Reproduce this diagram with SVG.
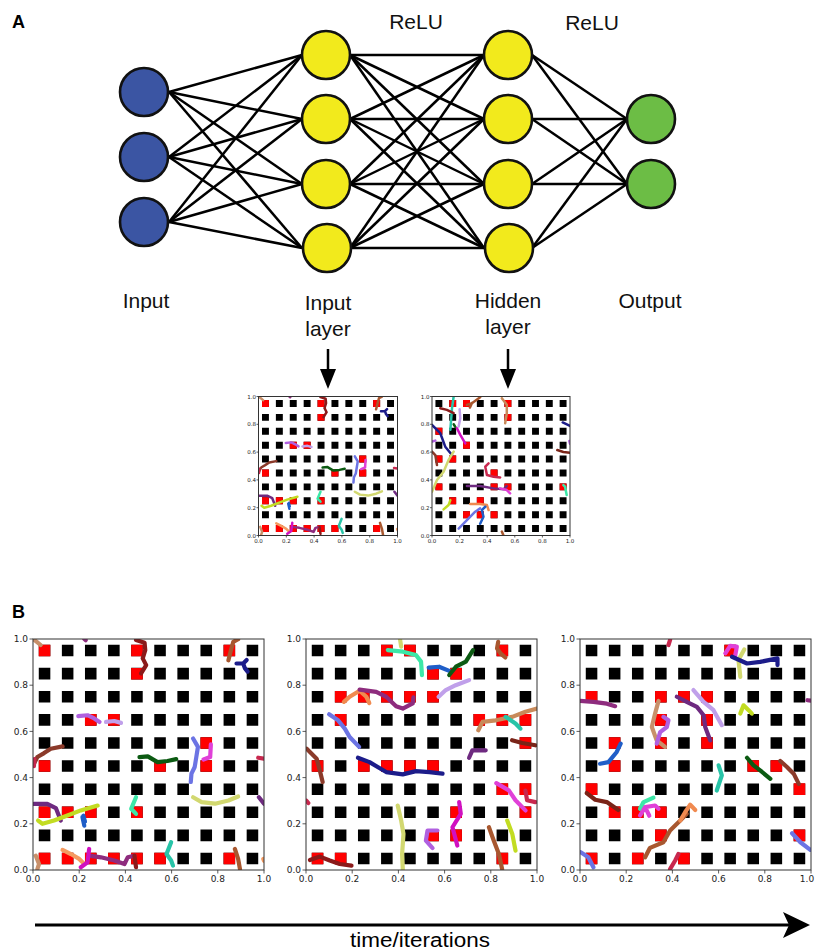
<svg xmlns="http://www.w3.org/2000/svg" xmlns:xlink="http://www.w3.org/1999/xlink" width="815" height="951" viewBox="0 0 815 951">
<style>
.lbl{font-family:"Liberation Sans",Arial,sans-serif;font-size:21px;fill:#111;text-anchor:middle}
.pl{font-family:"Liberation Sans",Arial,sans-serif;font-size:18px;font-weight:bold;fill:#000}
.nb{fill:#3b55a3;stroke:#111;stroke-width:2.6}
.ny{fill:#f2ea1c;stroke:#111;stroke-width:2.6}
.ng{fill:#6cbd45;stroke:#111;stroke-width:2.6}
.conn line{stroke:#000;stroke-width:2.5}
.t path{fill:none;stroke-linecap:round;stroke-linejoin:round;vector-effect:non-scaling-stroke}
.frame{fill:none;stroke:#333;stroke-width:1}
.tick{fill:none;stroke:#333;stroke-width:0.8}
.tl{font-family:"DejaVu Sans",sans-serif;font-size:9px;fill:#222}
.ts{font-family:"DejaVu Sans",sans-serif;font-size:5.5px;fill:#222}
.tan{stroke:#c8906a}.dmag{stroke:#8e2c7e}.dred{stroke:#8b1a1a}.sienna{stroke:#a8572f}.navy{stroke:#1c1c8a}
.morchid{stroke:#b060e0}.lav{stroke:#c0a0ea}.brown{stroke:#8b3a2a}.crimson{stroke:#c8284e}.dgreen{stroke:#0b5a12}
.cblue{stroke:#6c74e4}.fuchsia{stroke:#e040d8}.khaki{stroke:#d2d870}.dpurp{stroke:#6e2a80}.ygreen{stroke:#c2dc22}
.blue{stroke:#1f5ec8}.aqua{stroke:#3ce8a8}.salmon{stroke:#f49a60}.magenta{stroke:#d010c0}.teal{stroke:#28c4a8}
.peru{stroke:#c88a5a}.dbrown{stroke:#7a2418}.coral{stroke:#f08a50}
</style>
<defs>
<clipPath id="cp"><rect x="0" y="0" width="1" height="1"/></clipPath>
<path id="grid" fill="#000" d="M.025 .025h.05v.05h-.05zm.1 0h.05v.05h-.05zm.1 0h.05v.05h-.05zm.1 0h.05v.05h-.05zm.1 0h.05v.05h-.05zm.1 0h.05v.05h-.05zm.1 0h.05v.05h-.05zm.1 0h.05v.05h-.05zm.1 0h.05v.05h-.05zm.1 0h.05v.05h-.05zm-.9 .1h.05v.05h-.05zm.1 0h.05v.05h-.05zm.1 0h.05v.05h-.05zm.1 0h.05v.05h-.05zm.1 0h.05v.05h-.05zm.1 0h.05v.05h-.05zm.1 0h.05v.05h-.05zm.1 0h.05v.05h-.05zm.1 0h.05v.05h-.05zm.1 0h.05v.05h-.05zm-.9 .1h.05v.05h-.05zm.1 0h.05v.05h-.05zm.1 0h.05v.05h-.05zm.1 0h.05v.05h-.05zm.1 0h.05v.05h-.05zm.1 0h.05v.05h-.05zm.1 0h.05v.05h-.05zm.1 0h.05v.05h-.05zm.1 0h.05v.05h-.05zm.1 0h.05v.05h-.05zm-.9 .1h.05v.05h-.05zm.1 0h.05v.05h-.05zm.1 0h.05v.05h-.05zm.1 0h.05v.05h-.05zm.1 0h.05v.05h-.05zm.1 0h.05v.05h-.05zm.1 0h.05v.05h-.05zm.1 0h.05v.05h-.05zm.1 0h.05v.05h-.05zm.1 0h.05v.05h-.05zm-.9 .1h.05v.05h-.05zm.1 0h.05v.05h-.05zm.1 0h.05v.05h-.05zm.1 0h.05v.05h-.05zm.1 0h.05v.05h-.05zm.1 0h.05v.05h-.05zm.1 0h.05v.05h-.05zm.1 0h.05v.05h-.05zm.1 0h.05v.05h-.05zm.1 0h.05v.05h-.05zm-.9 .1h.05v.05h-.05zm.1 0h.05v.05h-.05zm.1 0h.05v.05h-.05zm.1 0h.05v.05h-.05zm.1 0h.05v.05h-.05zm.1 0h.05v.05h-.05zm.1 0h.05v.05h-.05zm.1 0h.05v.05h-.05zm.1 0h.05v.05h-.05zm.1 0h.05v.05h-.05zm-.9 .1h.05v.05h-.05zm.1 0h.05v.05h-.05zm.1 0h.05v.05h-.05zm.1 0h.05v.05h-.05zm.1 0h.05v.05h-.05zm.1 0h.05v.05h-.05zm.1 0h.05v.05h-.05zm.1 0h.05v.05h-.05zm.1 0h.05v.05h-.05zm.1 0h.05v.05h-.05zm-.9 .1h.05v.05h-.05zm.1 0h.05v.05h-.05zm.1 0h.05v.05h-.05zm.1 0h.05v.05h-.05zm.1 0h.05v.05h-.05zm.1 0h.05v.05h-.05zm.1 0h.05v.05h-.05zm.1 0h.05v.05h-.05zm.1 0h.05v.05h-.05zm.1 0h.05v.05h-.05zm-.9 .1h.05v.05h-.05zm.1 0h.05v.05h-.05zm.1 0h.05v.05h-.05zm.1 0h.05v.05h-.05zm.1 0h.05v.05h-.05zm.1 0h.05v.05h-.05zm.1 0h.05v.05h-.05zm.1 0h.05v.05h-.05zm.1 0h.05v.05h-.05zm.1 0h.05v.05h-.05zm-.9 .1h.05v.05h-.05zm.1 0h.05v.05h-.05zm.1 0h.05v.05h-.05zm.1 0h.05v.05h-.05zm.1 0h.05v.05h-.05zm.1 0h.05v.05h-.05zm.1 0h.05v.05h-.05zm.1 0h.05v.05h-.05zm.1 0h.05v.05h-.05zm.1 0h.05v.05h-.05z"/>
<g id="d1" clip-path="url(#cp)">
<use xlink:href="#grid" href="#grid"/>
<path fill="#ff0000" d="M.025 .925h.05v.05h-.05zM.425 .925h.05v.05h-.05zM.825 .925h.05v.05h-.05zM.425 .825h.05v.05h-.05zM.225 .625h.05v.05h-.05zM.325 .625h.05v.05h-.05zM.725 .525h.05v.05h-.05zM.025 .425h.05v.05h-.05zM.525 .425h.05v.05h-.05zM.725 .425h.05v.05h-.05zM.025 .225h.05v.05h-.05zM.125 .225h.05v.05h-.05zM.225 .225h.05v.05h-.05zM.425 .225h.05v.05h-.05zM.025 .025h.05v.05h-.05zM.125 .025h.05v.05h-.05zM.225 .025h.05v.05h-.05zM.325 .025h.05v.05h-.05zM.425 .025h.05v.05h-.05zM.525 .025h.05v.05h-.05zM.825 .025h.05v.05h-.05z"/>
<g class="t">
<path class="tan" d="M.004 .998L.033 .974"/>
<path class="dmag" d="M.222 1L.228 .995"/>
<path class="dred" d="M.446 .996L.483 .984 .486 .952 .475 .916 .49 .887 .468 .851"/>
<path class="sienna" d="M.888 .999L.867 .988 .857 .952 .846 .908"/>
<path class="navy" d="M.881 .894L.91 .894 .925 .909M.91 .894L.917 .874 .929 .859"/>
<path class="morchid" d="M.196 .666L.236 .67 .265 .656 .288 .641"/>
<path class="lav" d="M.316 .641L.352 .645 .381 .637"/>
<path class="brown" d="M.004 .46L.019 .489 .048 .506 .077 .525 .128 .535"/>
<path class="crimson" d="M.004 .45L.006 .48"/>
<path class="dgreen" d="M.461 .489L.497 .492 .539 .467 .582 .472 .62 .48"/>
<path class="cblue" d="M.693 .569L.714 .533 .707 .489 .7 .446 .686 .417 .683 .381"/>
<path class="fuchsia" d="M.77 .544L.767 .489 .738 .478"/>
<path class="crimson" d="M.975 .486L1 .482"/>
<path class="khaki" d="M.693 .315L.73 .294 .788 .287 .846 .301 .888 .318"/>
<path class="dpurp" d="M.978 .315L1 .287"/>
<path class="dpurp" d="M.004 .286L.062 .286 .099 .268 .12 .214"/>
<path class="ygreen" d="M.022 .214L.041 .2 .091 .214 .149 .236 .207 .258 .28 .279"/>
<path class="blue" d="M.214 .229L.222 .192M.218 .235L.225 .21"/>
<path class="aqua" d="M.446 .315L.425 .265 .446 .243"/>
<path class="salmon" d="M.128 .087L.164 .069 .2 .048 .222 .026"/>
<path class="dmag" d="M.243 .062L.294 .055 .352 .041 .396 .026 .41 .055 .439 .062"/>
<path class="magenta" d="M.243 .091L.236 .033 .207 .012"/>
<path class="dred" d="M.439 .062L.446 .012"/>
<path class="teal" d="M.598 .12L.578 .069 .598 .041 .606 .019"/>
<path class="sienna" d="M.874 .091L.888 .048 .896 .004"/>
<path class="tan" d="M.012 .062L.026 .026 .019 .004"/>
<path class="salmon" d="M.997 .048L1 .04"/>
</g>
</g>
<g id="d2" clip-path="url(#cp)">
<use xlink:href="#grid" href="#grid"/>
<path fill="#ff0000" d="M.325 .925h.05v.05h-.05zM.425 .925h.05v.05h-.05zM.825 .925h.05v.05h-.05zM.525 .825h.05v.05h-.05zM.625 .825h.05v.05h-.05zM.125 .725h.05v.05h-.05zM.225 .725h.05v.05h-.05zM.325 .725h.05v.05h-.05zM.425 .725h.05v.05h-.05zM.525 .725h.05v.05h-.05zM.125 .625h.05v.05h-.05zM.725 .625h.05v.05h-.05zM.825 .625h.05v.05h-.05zM.925 .625h.05v.05h-.05zM.925 .525h.05v.05h-.05zM.025 .425h.05v.05h-.05zM.225 .425h.05v.05h-.05zM.325 .425h.05v.05h-.05zM.425 .425h.05v.05h-.05zM.525 .425h.05v.05h-.05zM.825 .325h.05v.05h-.05zM.925 .325h.05v.05h-.05zM.625 .225h.05v.05h-.05zM.925 .225h.05v.05h-.05zM.525 .125h.05v.05h-.05zM.625 .125h.05v.05h-.05zM.025 .025h.05v.05h-.05zM.125 .025h.05v.05h-.05zM.825 .025h.05v.05h-.05z"/>
<g class="t">
<path class="khaki" d="M.407 1L.412 .967"/>
<path class="aqua" d="M.354 .952L.419 .945 .476 .931 .498 .902 .502 .844"/>
<path class="sienna" d="M.832 .988L.827 .959 .842 .938 .863 .92"/>
<path class="blue" d="M.531 .876L.576 .88 .62 .862"/>
<path class="dgreen" d="M.62 .844L.649 .88 .692 .902 .723 .952"/>
<path class="lav" d="M.574 .75L.605 .779 .648 .8 .706 .822"/>
<path class="coral" d="M.164 .728L.189 .75 .232 .776 .261 .75 .274 .723"/>
<path class="dmag" d="M.232 .781L.304 .771 .347 .75 .39 .709 .419 .699 .462 .721 .465 .747"/>
<path class="cblue" d="M.1 .674L.139 .648 .168 .612 .189 .576 .23 .533"/>
<path class="peru" d="M.746 .605L.764 .641 .821 .648 .893 .663 .95 .685 1 .699"/>
<path class="teal" d="M.864 .663L.907 .634 .928 .612"/>
<path class="dbrown" d="M.892 .562L.936 .55 .993 .54"/>
<path class="brown" d="M.003 .525L.046 .482 .06 .431 .072 .381"/>
<path class="navy" d="M.225 .486L.275 .467 .347 .424 .419 .414 .476 .428 .534 .424 .591 .417"/>
<path class="dpurp" d="M.706 .486L.72 .518 .778 .518"/>
<path class="fuchsia" d="M.824 .376L.878 .345 .907 .302 .95 .258"/>
<path class="crimson" d="M.95 .344L.957 .302 .993 .294"/>
<path class="crimson" d="M.002 .3L.01 .29"/>
<path class="khaki" d="M.397 .279L.412 .214 .422 .156 .416 .069 .419 .004"/>
<path class="morchid" d="M.569 .171L.526 .171 .519 .127 .548 .095"/>
<path class="magenta" d="M.663 .294L.67 .243 .634 .185 .655 .106"/>
<path class="sienna" d="M.792 .185L.813 .127 .835 .069 .849 .004"/>
<path class="ygreen" d="M.871 .214L.893 .156 .907 .084"/>
<path class="dred" d="M.017 .043L.06 .058 .103 .041 .146 .026 .197 .019"/>
</g>
</g>
<g id="d3" clip-path="url(#cp)">
<use xlink:href="#grid" href="#grid"/>
<path fill="#ff0000" d="M.625 .925h.05v.05h-.05zM.025 .725h.05v.05h-.05zM.325 .725h.05v.05h-.05zM.425 .725h.05v.05h-.05zM.525 .725h.05v.05h-.05zM.325 .625h.05v.05h-.05zM.525 .625h.05v.05h-.05zM.125 .525h.05v.05h-.05zM.325 .525h.05v.05h-.05zM.525 .525h.05v.05h-.05zM.125 .425h.05v.05h-.05zM.725 .425h.05v.05h-.05zM.825 .425h.05v.05h-.05zM.025 .325h.05v.05h-.05zM.925 .325h.05v.05h-.05zM.125 .225h.05v.05h-.05zM.225 .225h.05v.05h-.05zM.325 .225h.05v.05h-.05zM.325 .125h.05v.05h-.05zM.925 .125h.05v.05h-.05zM.025 .025h.05v.05h-.05zM.225 .025h.05v.05h-.05zM.425 .025h.05v.05h-.05z"/>
<g class="t">
<path class="crimson" d="M.39 .996L.383 .974"/>
<path class="fuchsia" d="M.629 .938L.65 .97 .679 .967 .671 .924"/>
<path class="khaki" d="M.711 .955L.686 .909 .694 .836"/>
<path class="navy" d="M.658 .923L.723 .894 .78 .901 .855 .916 .855 .887"/>
<path class="dmag" d="M0 .732L.058 .728 .116 .72 .152 .709"/>
<path class="dmag" d="M.985 .735L1 .733"/>
<path class="dpurp" d="M.419 .75L.462 .728 .506 .706 .535 .67 .542 .619 .564 .561"/>
<path class="lav" d="M.491 .779L.535 .728 .578 .692 .614 .627"/>
<path class="ygreen" d="M.694 .677L.708 .713 .73 .692 .744 .677"/>
<path class="tan" d="M.34 .732L.325 .677 .311 .619 .332 .561 .368 .533"/>
<path class="morchid" d="M.332 .547L.347 .597 .376 .619 .383 .648 .361 .663"/>
<path class="blue" d="M.087 .46L.123 .467 .159 .511 .176 .547"/>
<path class="teal" d="M.6 .453L.614 .41 .592 .344"/>
<path class="dgreen" d="M.723 .486L.751 .453 .78 .431 .824 .395"/>
<path class="brown" d="M.867 .472L.896 .446 .925 .417 .947 .373"/>
<path class="dbrown" d="M.029 .333L.066 .304 .116 .294 .166 .26"/>
<path class="aqua" d="M.26 .265L.275 .294 .318 .313"/>
<path class="fuchsia" d="M.26 .236L.282 .272 .325 .279 .34 .265M.282 .272L.3 .235"/>
<path class="sienna" d="M.282 .055L.303 .096 .361 .12 .39 .171 .434 .214 .462 .243"/>
<path class="coral" d="M.434 .214L.455 .25 .477 .283 .499 .26"/>
<path class="crimson" d="M.39 .004L.412 .041 .426 .069"/>
<path class="cblue" d="M.003 .077L.036 .055 .058 .012"/>
<path class="cblue" d="M.918 .159L.954 .12 .997 .087"/>
</g>
</g>
<g id="d4" clip-path="url(#cp)">
<use xlink:href="#grid" href="#grid"/>
<path fill="#ff0000" d="M.125 .925h.05v.05h-.05zM.225 .925h.05v.05h-.05zM.525 .925h.05v.05h-.05zM.525 .825h.05v.05h-.05zM.025 .725h.05v.05h-.05zM.225 .625h.05v.05h-.05zM.025 .525h.05v.05h-.05zM.125 .525h.05v.05h-.05zM.425 .425h.05v.05h-.05zM.025 .325h.05v.05h-.05zM.425 .325h.05v.05h-.05zM.525 .325h.05v.05h-.05zM.925 .325h.05v.05h-.05zM.125 .225h.05v.05h-.05zM.325 .225h.05v.05h-.05zM.225 .125h.05v.05h-.05zM.325 .125h.05v.05h-.05zM.425 .125h.05v.05h-.05z"/>
<g class="t">
<path class="teal" d="M.157 1L.145 .916 .133 .76"/>
<path class="dred" d="M.06 .916L.108 .904 .157 .88"/>
<path class="sienna" d="M.253 .94L.289 .952 .349 .995M.289 .952L.275 .92"/>
<path class="peru" d="M.506 .988L.542 .94 .542 .88 .53 .808"/>
<path class="lav" d="M.2 .909L.205 .844 .193 .784"/>
<path class="dgreen" d="M.157 .8L.17 .78"/>
<path class="magenta" d="M.181 .772L.205 .724 .241 .663"/>
<path class="navy" d="M0 .796L.06 .736 .096 .639 .145 .579"/>
<path class="morchid" d="M0 .675L.024 .683"/>
<path class="brown" d="M0 .603L.024 .579 .036 .507"/>
<path class="khaki" d="M0 .315L.036 .399 .084 .459 .12 .543 .157 .603"/>
<path class="crimson" d="M.41 .519L.386 .495 .398 .435 .446 .423 .494 .418"/>
<path class="dpurp" d="M.253 .356L.349 .356 .446 .339 .518 .332 .542 .356"/>
<path class="fuchsia" d="M.494 .339L.542 .327 .566 .303"/>
<path class="navy" d="M.947 .813L1 .788"/>
<path class="morchid" d="M.995 .68L1 .66"/>
<path class="dbrown" d="M.908 .615L.952 .601 1 .596"/>
<path class="aqua" d="M.952 .363L.964 .351 .976 .291"/>
<path class="ygreen" d="M.084 .188L.12 .219 .133 .255"/>
<path class="coral" d="M.277 .226L.349 .226 .398 .219 .41 .183"/>
<path class="cblue" d="M.193 .05L.253 .111 .313 .171 .349 .195"/>
<path class="blue" d="M.349 .084L.373 .135 .361 .183 .386 .207"/>
<path class="sienna" d="M.506 .028L.518 0"/>
</g>
</g>
</defs>
<rect width="815" height="951" fill="#fff"/>

<text class="pl" x="12" y="28">A</text>
<text class="pl" x="12" y="618">B</text>

<g id="connectors" class="conn">
<line x1="169" y1="92" x2="302" y2="55"/><line x1="169" y1="92" x2="302" y2="119"/><line x1="169" y1="92" x2="302" y2="184"/><line x1="169" y1="92" x2="302" y2="248"/>
<line x1="169" y1="157" x2="302" y2="55"/><line x1="169" y1="157" x2="302" y2="119"/><line x1="169" y1="157" x2="302" y2="184"/><line x1="169" y1="157" x2="302" y2="248"/>
<line x1="169" y1="222" x2="302" y2="55"/><line x1="169" y1="222" x2="302" y2="119"/><line x1="169" y1="222" x2="302" y2="184"/><line x1="169" y1="222" x2="302" y2="248"/>
<line x1="350" y1="55" x2="484" y2="55"/><line x1="350" y1="55" x2="484" y2="119"/><line x1="350" y1="55" x2="484" y2="184"/><line x1="350" y1="55" x2="484" y2="248"/>
<line x1="350" y1="119" x2="484" y2="55"/><line x1="350" y1="119" x2="484" y2="119"/><line x1="350" y1="119" x2="484" y2="184"/><line x1="350" y1="119" x2="484" y2="248"/>
<line x1="350" y1="184" x2="484" y2="55"/><line x1="350" y1="184" x2="484" y2="119"/><line x1="350" y1="184" x2="484" y2="184"/><line x1="350" y1="184" x2="484" y2="248"/>
<line x1="350" y1="248" x2="484" y2="55"/><line x1="350" y1="248" x2="484" y2="119"/><line x1="350" y1="248" x2="484" y2="184"/><line x1="350" y1="248" x2="484" y2="248"/>
<line x1="532" y1="55" x2="627" y2="119"/><line x1="532" y1="55" x2="627" y2="184"/>
<line x1="532" y1="119" x2="627" y2="119"/><line x1="532" y1="119" x2="627" y2="184"/>
<line x1="532" y1="184" x2="627" y2="119"/><line x1="532" y1="184" x2="627" y2="184"/>
<line x1="532" y1="248" x2="627" y2="119"/><line x1="532" y1="248" x2="627" y2="184"/>
</g>

<g id="in1"><circle class="nb" cx="144" cy="92" r="24"/></g>
<g id="in2"><circle class="nb" cx="144" cy="157" r="24"/></g>
<g id="in3"><circle class="nb" cx="144" cy="222" r="24"/></g>
<g id="l1a"><circle class="ny" cx="326" cy="55" r="24"/></g>
<g id="l1b"><circle class="ny" cx="326" cy="119" r="24"/></g>
<g id="l1c"><circle class="ny" cx="326" cy="184" r="24"/></g>
<g id="l1d"><circle class="ny" cx="327" cy="248" r="24"/></g>
<g id="l2a"><circle class="ny" cx="508" cy="55" r="24"/></g>
<g id="l2b"><circle class="ny" cx="508" cy="119" r="24"/></g>
<g id="l2c"><circle class="ny" cx="508" cy="184" r="24"/></g>
<g id="l2d"><circle class="ny" cx="509" cy="248" r="24"/></g>
<g id="out1"><circle class="ng" cx="651" cy="119" r="24"/></g>
<g id="out2"><circle class="ng" cx="651" cy="184" r="24"/></g>

<g id="labels">
<text class="lbl" x="416" y="29">ReLU</text>
<text class="lbl" x="592" y="30">ReLU</text>
<text class="lbl" x="146" y="308">Input</text>
<text class="lbl" x="328" y="310">Input</text>
<text class="lbl" x="328" y="336">layer</text>
<text class="lbl" x="508" y="308">Hidden</text>
<text class="lbl" x="508" y="334">layer</text>
<text class="lbl" x="650" y="308">Output</text>
</g>

<g id="arrows-down">
<line x1="328" y1="349" x2="328" y2="372" stroke="#000" stroke-width="2.5"/>
<polygon points="320,369 336,369 328,389" fill="#000"/>
<line x1="508" y1="349" x2="508" y2="372" stroke="#000" stroke-width="2.5"/>
<polygon points="500,369 516,369 508,389" fill="#000"/>
</g>

<g id="plotS1">
<use xlink:href="#d1" href="#d1" transform="translate(258.5 535.5) scale(139 -139)" stroke-width="2.5"/>
<rect class="frame" x="258.5" y="396.5" width="139" height="139"/>
<path class="tick" d="M258.5 535.5v2M286.3 535.5v2M314.1 535.5v2M341.9 535.5v2M369.7 535.5v2M397.5 535.5v2M258.5 535.5h-2M258.5 507.7h-2M258.5 479.9h-2M258.5 452.1h-2M258.5 424.3h-2M258.5 396.5h-2"/>
<g class="ts" text-anchor="middle"><text x="258.5" y="543">0.0</text><text x="286.3" y="543">0.2</text><text x="314.1" y="543">0.4</text><text x="341.9" y="543">0.6</text><text x="369.7" y="543">0.8</text><text x="397.5" y="543">1.0</text></g>
<g class="ts" text-anchor="end"><text x="256" y="537.5">0.0</text><text x="256" y="509.7">0.2</text><text x="256" y="481.9">0.4</text><text x="256" y="454.1">0.6</text><text x="256" y="426.3">0.8</text><text x="256" y="398.5">1.0</text></g>
</g>

<g id="plotS2">
<use xlink:href="#d4" href="#d4" transform="translate(432 535.5) scale(138 -139)" stroke-width="2.5"/>
<rect class="frame" x="432" y="396.5" width="138" height="139"/>
<path class="tick" d="M432 535.5v2M459.6 535.5v2M487.2 535.5v2M514.8 535.5v2M542.4 535.5v2M570 535.5v2M432 535.5h-2M432 507.7h-2M432 479.9h-2M432 452.1h-2M432 424.3h-2M432 396.5h-2"/>
<g class="ts" text-anchor="middle"><text x="432" y="543">0.0</text><text x="459.6" y="543">0.2</text><text x="487.2" y="543">0.4</text><text x="514.8" y="543">0.6</text><text x="542.4" y="543">0.8</text><text x="570" y="543">1.0</text></g>
<g class="ts" text-anchor="end"><text x="429.5" y="537.5">0.0</text><text x="429.5" y="509.7">0.2</text><text x="429.5" y="481.9">0.4</text><text x="429.5" y="454.1">0.6</text><text x="429.5" y="426.3">0.8</text><text x="429.5" y="398.5">1.0</text></g>
</g>

<g id="plotB1">
<use xlink:href="#d1" href="#d1" transform="translate(33 870) scale(231 -231)" stroke-width="4.2"/>
<rect class="frame" x="33" y="639" width="231" height="231"/>
<path class="tick" d="M33 870v3.5M79.2 870v3.5M125.4 870v3.5M171.6 870v3.5M217.8 870v3.5M264 870v3.5M33 870h-3.5M33 823.8h-3.5M33 777.6h-3.5M33 731.4h-3.5M33 685.2h-3.5M33 639h-3.5"/>
<g class="tl" text-anchor="middle"><text x="33" y="882">0.0</text><text x="79.2" y="882">0.2</text><text x="125.4" y="882">0.4</text><text x="171.6" y="882">0.6</text><text x="217.8" y="882">0.8</text><text x="264" y="882">1.0</text></g>
<g class="tl" text-anchor="end"><text x="28" y="873.2">0.0</text><text x="28" y="827">0.2</text><text x="28" y="780.8">0.4</text><text x="28" y="734.6">0.6</text><text x="28" y="688.4">0.8</text><text x="28" y="642.2">1.0</text></g>
</g>

<g id="plotB2">
<use xlink:href="#d2" href="#d2" transform="translate(306 870) scale(231 -231)" stroke-width="4.2"/>
<rect class="frame" x="306" y="639" width="231" height="231"/>
<path class="tick" d="M306 870v3.5M352.2 870v3.5M398.4 870v3.5M444.6 870v3.5M490.8 870v3.5M537 870v3.5M306 870h-3.5M306 823.8h-3.5M306 777.6h-3.5M306 731.4h-3.5M306 685.2h-3.5M306 639h-3.5"/>
<g class="tl" text-anchor="middle"><text x="306" y="882">0.0</text><text x="352.2" y="882">0.2</text><text x="398.4" y="882">0.4</text><text x="444.6" y="882">0.6</text><text x="490.8" y="882">0.8</text><text x="537" y="882">1.0</text></g>
<g class="tl" text-anchor="end"><text x="301" y="873.2">0.0</text><text x="301" y="827">0.2</text><text x="301" y="780.8">0.4</text><text x="301" y="734.6">0.6</text><text x="301" y="688.4">0.8</text><text x="301" y="642.2">1.0</text></g>
</g>

<g id="plotB3">
<use xlink:href="#d3" href="#d3" transform="translate(580 870) scale(231 -231)" stroke-width="4.2"/>
<rect class="frame" x="580" y="639" width="231" height="231"/>
<path class="tick" d="M580 870v3.5M626.2 870v3.5M672.4 870v3.5M718.6 870v3.5M764.8 870v3.5M811 870v3.5M580 870h-3.5M580 823.8h-3.5M580 777.6h-3.5M580 731.4h-3.5M580 685.2h-3.5M580 639h-3.5"/>
<g class="tl" text-anchor="middle"><text x="580" y="882">0.0</text><text x="626.2" y="882">0.2</text><text x="672.4" y="882">0.4</text><text x="718.6" y="882">0.6</text><text x="764.8" y="882">0.8</text><text x="807" y="882">1.0</text></g>
<g class="tl" text-anchor="end"><text x="575" y="873.2">0.0</text><text x="575" y="827">0.2</text><text x="575" y="780.8">0.4</text><text x="575" y="734.6">0.6</text><text x="575" y="688.4">0.8</text><text x="575" y="642.2">1.0</text></g>
</g>

<g id="time-arrow">
<line x1="35" y1="925" x2="790" y2="925" stroke="#000" stroke-width="3"/>
<polygon points="783,912 810,925 783,938 789,925" fill="#000"/>
<text x="420" y="947" font-family="'Liberation Sans',Arial,sans-serif" font-size="20" text-anchor="middle" textLength="140" lengthAdjust="spacingAndGlyphs" fill="#000">time/iterations</text>
</g>
</svg>
